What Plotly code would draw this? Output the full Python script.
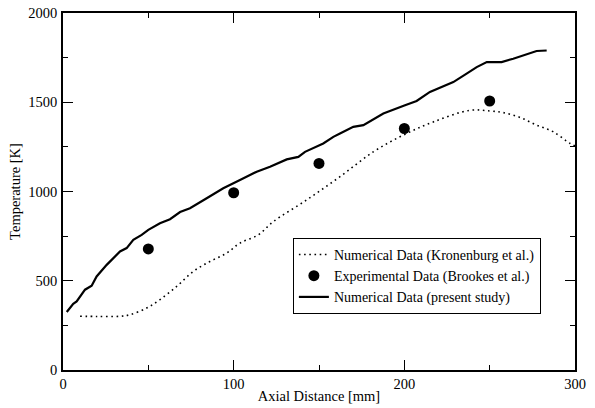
import plotly.graph_objects as go

# Numerical Data (present study) - solid
present_x = [2.2, 6.0, 8.0, 12.9, 16.8, 19.7, 25.6, 33.4, 37.3, 41.2, 46.1, 50.0, 56.8, 62.7, 68.6,
             74.4, 84.2, 93.9, 103.7, 113.5, 121.3, 131.1, 137.9, 141.8, 152.5, 158.4, 162.3, 170.1,
             176.0, 187.7, 200.4, 207.2, 215.0, 228.7, 236.5, 242.4, 248.3, 257.0, 263.8, 273.6,
             277.5, 283.4]
present_T = [325, 371, 384, 450, 472, 524, 589, 664, 683, 729, 757, 785, 822, 845, 885,
             906, 962, 1018, 1064, 1111, 1139, 1180, 1194, 1222, 1269, 1306, 1325, 1362,
             1372, 1437, 1483, 1507, 1558, 1613, 1660, 1697, 1725, 1725, 1744, 1772,
             1787, 1790]

# Numerical Data (Kronenburg et al.) - dotted
kron_x = [10, 20, 33.4, 39.3, 49.0, 56.8, 66.6, 76.3, 86.1, 95.9, 103.7, 114.4, 123.2, 142.8,
          162.3, 181.8, 199.4, 217.0, 238.5, 250.2, 258.0, 267.8, 277.5, 287.3, 297.1, 300]
kron_T = [301, 300, 301, 310, 347, 394, 468, 552, 608, 655, 711, 757, 831, 953,
          1083, 1222, 1316, 1390, 1455, 1451, 1442, 1415, 1372, 1334, 1269, 1255]

# Experimental Data (Brookes et al.)
exp_x = [50, 100, 150, 200, 250]
exp_T = [678, 993, 1157, 1353, 1507]

x_ticks = [0, 100, 200, 300]
y_ticks = [0, 500, 1000, 1500, 2000]

FONT = "Liberation Serif"

fig = go.Figure()
fig.add_trace(go.Scatter(
    x=kron_x, y=kron_T, mode="lines", line_shape="spline",
    line=dict(color="black", width=1.6, dash="1.6px,3.6px"),
    name="Numerical Data (Kronenburg et al.)"))
fig.add_trace(go.Scatter(
    x=exp_x, y=exp_T, mode="markers",
    marker=dict(color="black", size=11, symbol="circle"),
    name="Experimental Data (Brookes et al.)"))
fig.add_trace(go.Scatter(
    x=present_x, y=present_T, mode="lines",
    line=dict(color="black", width=2.2),
    name="Numerical Data (present study)"))

axis_common = dict(
    showline=True, linecolor="black", linewidth=1.5, mirror="ticks",
    ticks="inside", ticklen=10, tickwidth=1, tickcolor="black",
    showgrid=False, zeroline=False, automargin=False,
    tickfont=dict(family=FONT, size=14.5, color="black"),
    minor=dict(ticks="inside", ticklen=5, tickwidth=1, tickcolor="black", showgrid=False),
)

fig.update_xaxes(range=[0, 300], tickvals=x_ticks, ticktext=[str(v) for v in x_ticks],
                 minor_dtick=50, minor_tick0=0, ticklabelstandoff=0,
                 title=dict(text="Axial Distance [mm]", font=dict(family=FONT, size=14.5, color="black"),
                            standoff=0),
                 **axis_common)
fig.update_yaxes(range=[0, 2000], tickvals=y_ticks, ticktext=[str(v) for v in y_ticks],
                 minor_dtick=250, minor_tick0=0, ticklabelstandoff=1,
                 title=dict(text="Temperature [K]", font=dict(family=FONT, size=14.5, color="black"),
                            standoff=4),
                 **axis_common)

fig.update_layout(
    width=595, height=408,
    margin=dict(l=63, r=20, t=12.5, b=37.5),
    paper_bgcolor="white", plot_bgcolor="white",
    font=dict(family=FONT, size=14, color="black"),
    showlegend=True,
    legend=dict(x=0.449, y=0.37, xanchor="left", yanchor="top",
                bordercolor="black", borderwidth=1, bgcolor="white",
                font=dict(family=FONT, size=14, color="black"),
                tracegroupgap=0, itemwidth=30),
)

fig.write_html("out.html")
